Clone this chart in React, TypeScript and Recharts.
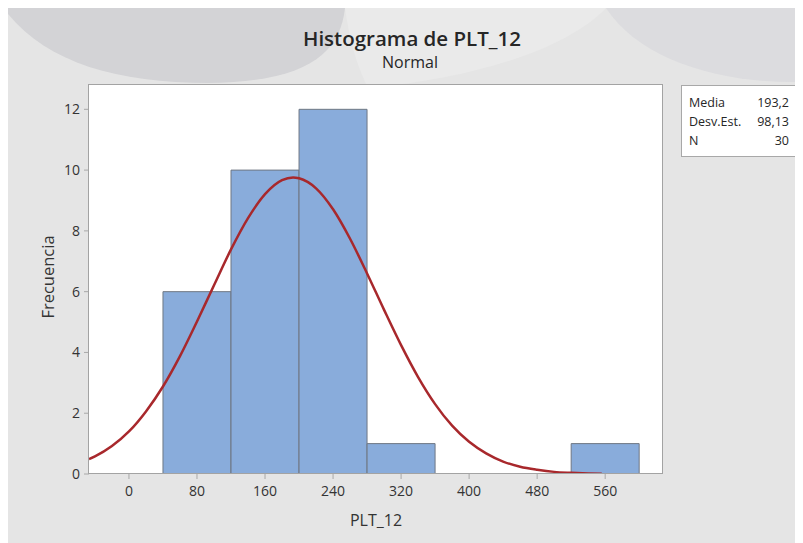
import React from 'react';
import { ComposedChart, Bar, Line, XAxis, YAxis, CartesianGrid } from 'recharts';

// Histogram bins (centers, width 80) and frequencies
const binCenters = [80, 160, 240, 320, 400, 480, 560];
const binCounts = [6, 10, 12, 1, 0, 0, 1];

// Fitted normal curve (Media 193,2 ; Desv.Est. 98,13 ; N 30)
const curveX = [-47, -40, -20, 0, 20, 40, 60, 80, 100, 120, 140, 160, 180, 193, 200, 220, 240, 260, 280, 300, 320, 340, 360, 380, 400, 420, 440, 460, 480, 500, 520, 540, 556];
const curveY = [0.49, 0.58, 0.92, 1.4, 2.06, 2.88, 3.88, 5.02, 6.21, 7.39, 8.42, 9.21, 9.67, 9.76, 9.73, 9.4, 8.71, 7.74, 6.6, 5.4, 4.24, 3.19, 2.3, 1.59, 1.06, 0.68, 0.41, 0.24, 0.14, 0.07, 0.04, 0.02, 0.01];

const xTicks = [0, 80, 160, 240, 320, 400, 480, 560];
const yTicks = [0, 2, 4, 6, 8, 10, 12];
const xDomain = [-47, 628];
const yDomain = [0, 12.8];

const statLabels = ['Media', 'Desv.Est.', 'N'];
const statValues = ['193,2', '98,13', '30'];

const title = 'Histograma de PLT_12';
const subtitle = 'Normal';
const xLabel = 'PLT_12';
const yLabel = 'Frecuencia';

const histData = binCenters.map((x, i) => ({ x, count: binCounts[i] }));
const curveData = curveX.map((x, i) => ({ x, y: curveY[i] }));

const FONT = '"Open Sans", "Noto Sans", sans-serif';
const W = 795;
const H = 535;
const PL = 81, PT = 77, PW = 574, PH = 389;

export default function App() {
  return (
    <div style={{ position: 'relative', width: W, height: H, background: '#e5e5e5', overflow: 'hidden', fontFamily: FONT }}>
      <svg width={W} height={H} style={{ position: 'absolute', left: 0, top: 0 }}>
        <path d="M 0 0 L 337 0 C 332 45 300 74 200 75 C 110 75 40 55 0 6 Z" fill="#d3d3d6" />
        <path d="M 337 0 L 598 0 C 560 40 470 70 360 80 C 345 50 340 20 337 0 Z" fill="#eaeaea" />
        <path d="M 598 0 L 795 0 L 795 74 C 712 76 632 52 598 0 Z" fill="#dcdcdf" />
      </svg>
      <div style={{ position: 'absolute', left: 0, top: 0 }}>
        <ComposedChart
          width={W}
          height={H}
          data={histData}
          margin={{ top: PT, right: W - PL - PW, bottom: 0, left: PL - 40 }}
          barCategoryGap={0}
          barGap={0}
        >
          <CartesianGrid horizontal={false} vertical={false} fill="#ffffff" />
          <XAxis
            xAxisId={0}
            type="number"
            dataKey="x"
            domain={xDomain}
            ticks={xTicks}
            allowDataOverflow
            height={H - PT - PH}
            axisLine={false}
            tickSize={5}
            tickMargin={7}
            tickLine={{ stroke: '#a8a8a8' }}
            tick={{ fill: '#333333', fontSize: 14, fontFamily: FONT }}
            interval={0}
          />
          <XAxis xAxisId="c" type="number" dataKey="x" domain={xDomain} allowDataOverflow hide />
          <YAxis
            type="number"
            domain={yDomain}
            ticks={yTicks}
            allowDataOverflow
            width={40}
            axisLine={false}
            tickSize={5}
            tickMargin={4}
            tickLine={{ stroke: '#a8a8a8' }}
            tick={{ fill: '#333333', fontSize: 14, fontFamily: FONT }}
            interval={0}
          />
          <Bar dataKey="count" xAxisId={0} fill="#89acdb" stroke="#6f7783" strokeWidth={1} isAnimationActive={false} />
          <Line
            data={curveData}
            xAxisId="c"
            dataKey="y"
            type="monotone"
            stroke="#a8282c"
            strokeWidth={2.5}
            dot={false}
            activeDot={false}
            isAnimationActive={false}
          />
        </ComposedChart>
      </div>
      <svg width={W} height={H} style={{ position: 'absolute', left: 0, top: 0, pointerEvents: 'none' }}>
        <rect x={PL - 0.5} y={PT - 0.5} width={PW} height={PH} fill="none" stroke="#a3a3a3" strokeWidth={1} />
        <text x={404} y={38} textAnchor="middle" fontSize={20.5} fontWeight={600} fill="#262626" fontFamily={FONT}>{title}</text>
        <text x={402} y={60} textAnchor="middle" fontSize={16} fill="#262626" fontFamily={FONT}>{subtitle}</text>
        <text x={368} y={518} textAnchor="middle" fontSize={16} fill="#333333" fontFamily={FONT}>{xLabel}</text>
        <text x={0} y={0} transform="translate(46 269) rotate(-90)" textAnchor="middle" fontSize={16.5} fill="#333333" fontFamily={FONT}>{yLabel}</text>
        <rect x={673.5} y={77.5} width={117} height={71} fill="#ffffff" stroke="#a8a8a8" strokeWidth={1} />
        {statLabels.map((s, i) => (
          <text key={s} x={681} y={98.5 + i * 19.2} fontSize={12.5} fill="#262626" fontFamily={FONT}>{s}</text>
        ))}
        {statValues.map((s, i) => (
          <text key={i} x={781} y={98.5 + i * 19.2} textAnchor="end" fontSize={12.5} fill="#262626" fontFamily={FONT}>{s}</text>
        ))}
      </svg>
    </div>
  );
}
